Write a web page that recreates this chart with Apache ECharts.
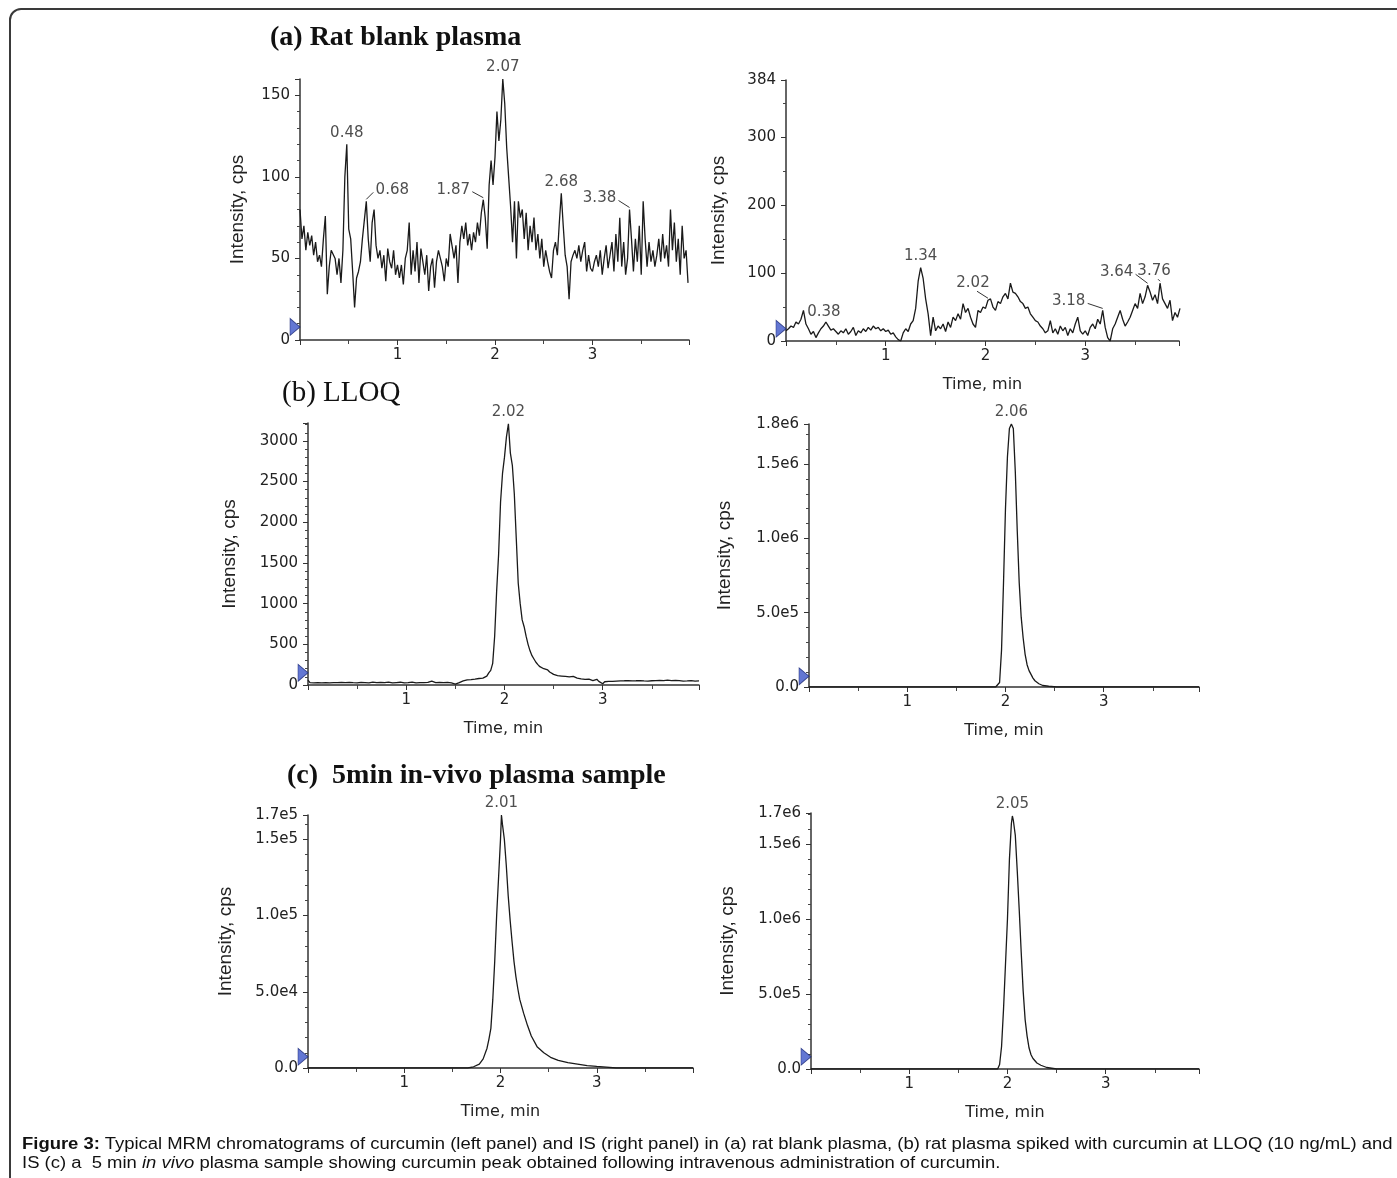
<!DOCTYPE html>
<html>
<head>
<meta charset="utf-8">
<title>Figure 3: MRM chromatograms of curcumin and IS</title>
<script src="https://cdn.jsdelivr.net/npm/echarts@6/dist/echarts.min.js"></script>
<style>
  html, body { margin: 0; padding: 0; background: #fff; }
  #wrap { position: relative; width: 1397px; height: 1178px; overflow: hidden; }
  #frame { position: absolute; left: 9px; top: 8px; width: 1420px; height: 1240px;
           border: 2px solid #3a3a3a; border-radius: 12px; box-sizing: border-box; }
  #chart { position: absolute; left: 0; top: 0; width: 1397px; height: 1178px; }
  #caption { position: absolute; left: 22px; top: 1134px; font-family: 'Liberation Sans', Arial, sans-serif;
             font-size: 16px; line-height: 19px; color: #111; transform-origin: 0 0; white-space: nowrap; }
</style>
</head>
<body>
<div id="wrap">
  <div id="frame"></div>
  <div id="chart"></div>
  <div id="caption">
    <div id="cap1"><b>Figure 3:</b> Typical MRM chromatograms of curcumin (left panel) and IS (right panel) in (a) rat blank plasma, (b) rat plasma spiked with curcumin at LLOQ (10 ng/mL) and</div>
    <div>IS (c) a&nbsp; 5 min <i>in vivo</i> plasma sample showing curcumin peak obtained following intravenous administration of curcumin.</div>
  </div>
</div>
<script>
// ---- data ----
// (a) rat blank plasma, curcumin channel: one reading every 0.02 min from 0
const blankDrugStep = 0.02;
const blankDrug = [
  80, 62, 70, 55, 66, 58, 64, 52, 60, 48,
  52, 45, 62, 76, 28, 45, 55, 54, 50, 40,
  50, 35, 55, 100, 120, 68, 62, 42, 20, 38,
  42, 48, 62, 62, 85, 62, 48, 72, 80, 58,
  50, 55, 44, 52, 36, 56, 48, 44, 55, 40,
  46, 38, 46, 34, 50, 55, 72, 40, 55, 42,
  60, 35, 56, 48, 40, 52, 30, 45, 50, 32,
  48, 55, 50, 45, 36, 50, 45, 65, 66, 50,
  58, 35, 60, 70, 62, 72, 58, 65, 55, 66,
  60, 72, 64, 78, 86, 75, 56, 95, 110, 95,
  112, 140, 122, 135, 160, 145, 118, 100, 82, 60,
  85, 50, 85, 75, 80, 62, 78, 55, 70, 60,
  75, 55, 65, 50, 62, 45, 55, 48, 42, 38,
  55, 60, 52, 72, 90, 70, 52, 45, 25, 48,
  52, 55, 50, 58, 48, 55, 60, 42, 52, 44,
  42, 48, 52, 45, 55, 40, 50, 58, 44, 52,
  60, 42, 65, 48, 75, 45, 60, 40, 50, 80,
  62, 42, 62, 48, 70, 40, 85, 62, 45, 60,
  48, 55, 45, 52, 62, 48, 65, 50, 58, 45,
  80, 55, 72, 48, 62, 40, 70, 50, 55, 35
];
// (a) rat blank plasma, IS channel: every 0.025 min
const blankIsStep = 0.025;
const blankIs = [
  15, 18, 22, 20, 28, 25, 32, 45, 25, 18,
  10, 14, 5, 12, 18, 22, 28, 22, 16, 18,
  14, 10, 15, 12, 18, 10, 14, 20, 8, 15,
  12, 18, 14, 20, 16, 22, 18, 20, 15, 18,
  14, 16, 10, 12, 6, 2, 0, 12, 18, 14,
  25, 30, 48, 88, 108, 92, 62, 40, 8, 35,
  15, 22, 18, 25, 14, 28, 20, 35, 30, 40,
  32, 55, 42, 48, 35, 25, 20, 45, 42, 50,
  48, 60, 62, 50, 45, 58, 55, 65, 70, 62,
  85, 72, 70, 65, 58, 55, 48, 50, 40, 35,
  30, 28, 22, 18, 12, 15, 30, 12, 18, 10,
  22, 15, 20, 8, 18, 12, 25, 35, 15, 10,
  15, 8, 20, 25, 18, 32, 25, 45, 20, 5,
  0, 18, 25, 35, 45, 32, 22, 28, 35, 45,
  55, 48, 70, 55, 65, 82, 72, 60, 68, 55,
  85, 62, 55, 48, 60, 30, 42, 35, 48
];
// (b) LLOQ, curcumin channel: every 0.02 min
const lloqDrugStep = 0.02;
const lloqDrug = [
  60, 30, 45, 25, 40, 30, 35, 25, 30, 28,
  30, 25, 32, 28, 35, 30, 25, 32, 28, 30,
  26, 32, 30, 28, 35, 25, 30, 33, 28, 30,
  32, 27, 30, 35, 28, 30, 26, 32, 30, 28,
  30, 35, 28, 25, 32, 30, 28, 34, 30, 26,
  30, 28, 32, 35, 30, 26, 30, 28, 34, 30,
  28, 32, 40, 48, 35, 30, 28, 32, 35, 30,
  28, 32, 30, 25, 20, 12, 10, 30, 45, 50,
  55, 62, 70, 65, 78, 72, 85, 80, 90, 85,
  95, 110, 150, 180, 266, 600, 1150, 1600, 2250, 2600,
  2800, 3050, 3210, 2850, 2700, 2350, 1800, 1250, 1000, 800,
  716, 600, 500, 420, 360, 320, 280, 250, 225, 210,
  200, 190, 185, 160, 140, 130, 135, 115, 120, 110,
  115, 105, 110, 100, 95, 105, 90, 85, 80, 75,
  78, 70, 65, 72, 60, 55, 50, 70, 45, 40,
  15, 40, 42, 45, 48, 45, 50, 48, 45, 50,
  48, 52, 45, 55, 48, 50, 45, 52, 48, 55,
  45, 50, 60, 48, 45, 52, 40, 55, 50, 58,
  45, 55, 50, 60, 48, 55, 70, 58, 50, 55,
  60, 48, 55, 50, 45, 55, 60, 48, 52, 50
];
// (b) LLOQ, IS channel
const lloqIsTime = [0, 1.90, 1.92, 1.94, 1.96, 1.98, 2.00, 2.02, 2.04, 2.06, 2.08, 2.10, 2.12, 2.14,
  2.16, 2.18, 2.20, 2.22, 2.24, 2.26, 2.28, 2.30, 2.34, 2.38, 2.44, 2.52, 3.97];
const lloqIs = [0, 0, 5000, 30000, 250000, 700000, 1200000, 1550000, 1740000, 1770000, 1740000, 1450000,
  1050000, 700000, 470000, 330000, 220000, 150000, 110000, 85000, 60000, 42000, 22000, 10000, 5000, 0, 0];
// (c) 5 min in vivo sample, curcumin channel
const vivoDrugTime = [0, 1.66, 1.72, 1.78, 1.82, 1.86, 1.88, 1.90, 1.92, 1.94, 1.96, 1.98, 2.00, 2.01,
  2.02, 2.04, 2.06, 2.08, 2.10, 2.12, 2.14, 2.16, 2.18, 2.20, 2.24, 2.28, 2.32, 2.38, 2.45, 2.52,
  2.60, 2.70, 2.80, 2.90, 3.00, 3.10, 3.20, 4.0];
const vivoDrug = [0, 0, 800, 2500, 6000, 13000, 19000, 26000, 45000, 70000, 100000, 125000, 150000, 166000,
  160000, 150000, 133000, 113000, 97000, 83000, 70000, 60000, 52000, 45000, 36000, 28000, 21000, 14000,
  10000, 7000, 5000, 3500, 2500, 1500, 1000, 600, 0, 0];
// (c) 5 min in vivo sample, IS channel
const vivoIsTime = [0, 1.90, 1.92, 1.94, 1.96, 1.98, 2.00, 2.02, 2.04, 2.05, 2.06, 2.08, 2.10, 2.12, 2.14,
  2.16, 2.18, 2.20, 2.22, 2.24, 2.26, 2.30, 2.34, 2.40, 2.50, 3.95];
const vivoIs = [0, 0, 30000, 150000, 400000, 700000, 1000000, 1400000, 1640000, 1690000, 1660000, 1560000,
  1320000, 1060000, 780000, 520000, 330000, 220000, 140000, 95000, 70000, 40000, 25000, 10000, 0, 0];

// labelled retention times [time, intensity, label]
const peaksBlankDrug = [[0.48, 120, '0.48'], [0.68, 85, '0.68'], [1.88, 86, '1.87'], [2.08, 160, '2.07'], [2.68, 90, '2.68'], [3.38, 80, '3.38']];
const peaksBlankIs = [[0.38, 25, '0.38'], [1.35, 108, '1.34'], [2.025, 60, '2.02'], [3.175, 45, '3.18'], [3.625, 82, '3.64'], [3.75, 85, '3.76']];
const peaksLloqDrug = [[2.04, 3210, '2.02']];
const peaksLloqIs = [[2.06, 1770000, '2.06']];
const peaksVivoDrug = [[2.01, 166000, '2.01']];
const peaksVivoIs = [[2.05, 1690000, '2.05']];

// integration threshold marker on each y axis
const markerLevels = [8, 18, 150, 72000, 7400, 82000];

// tick labels
const timeTicks = [1, 2, 3];
const yTicksBlankDrug = [0, 50, 100, 150];
const yLabelsBlankDrug = ['0', '50', '100', '150'];
const yTicksBlankIs = [0, 100, 200, 300, 384];
const yLabelsBlankIs = ['0', '100', '200', '300', '384'];
const yTicksLloqDrug = [0, 500, 1000, 1500, 2000, 2500, 3000];
const yLabelsLloqDrug = ['0', '500', '1000', '1500', '2000', '2500', '3000'];
const yTicksLloqIs = [0, 500000, 1000000, 1500000, 1770000];
const yLabelsLloqIs = ['0.0', '5.0e5', '1.0e6', '1.5e6', '1.8e6'];
const yTicksVivoDrug = [0, 50000, 100000, 150000, 166000];
const yLabelsVivoDrug = ['0.0', '5.0e4', '1.0e5', '1.5e5', '1.7e5'];
const yTicksVivoIs = [0, 500000, 1000000, 1500000, 1710000];
const yLabelsVivoIs = ['0.0', '5.0e5', '1.0e6', '1.5e6', '1.7e6'];

const panelTitles = ['(a) Rat blank plasma', '(b) LLOQ', '(c)  5min in-vivo plasma sample'];

// ---- layout ----
const titleStyle = [[270, 24, 'bold 28px'], [282, 379, '29px'], [287, 762, 'bold 28px']];
const panels = [
  { grid: [300, 79, 389, 261], xMax: 3.99, yMax: 160, yStep: 50, yMinor: 5, nameGap: 53, time: false },
  { grid: [786, 80, 393, 261], xMax: 3.94, yMax: 384, yStep: 100, yMinor: 2, nameGap: 58, time: true },
  { grid: [308, 423, 391, 262], xMax: 3.98, yMax: 3220, yStep: 500, yMinor: 5, nameGap: 69, time: true },
  { grid: [809, 424, 390, 263], xMax: 3.97, yMax: 1770000, yStep: 500000, yMinor: 5, nameGap: 75, time: true },
  { grid: [308, 815, 385, 253], xMax: 4.0, yMax: 166000, yStep: 50000, yMinor: 5, nameGap: 73, time: true },
  { grid: [811, 813, 388, 256], xMax: 3.95, yMax: 1710000, yStep: 500000, yMinor: 5, nameGap: 74, time: true }
];
// label offsets (px, label centre from the peak) for labels that carry a leader line
const leaderOffsets = [
  { '0.68': [26, -11], '1.87': [-30, -10], '3.38': [-30, -11] },
  { '2.02': [-15, -17], '3.18': [-34, -9], '3.64': [-31, -13], '3.76': [-6, -12] },
  {}, {}, {}, {}
];

function stepPairs(vals, step) {
  return vals.map(function (v, i) { return [Math.round(i * step * 1000) / 1000, v]; });
}
function timePairs(ts, vals) {
  return ts.map(function (t, i) { return [t, vals[i]]; });
}
function tickFormatter(vals, labs) {
  return function (v) {
    for (let k = 0; k < vals.length; k++) {
      if (Math.abs(v - vals[k]) <= 1e-6 * Math.max(1, Math.abs(vals[k]))) return labs[k];
    }
    return '';
  };
}

const traces = [
  stepPairs(blankDrug, blankDrugStep),
  stepPairs(blankIs, blankIsStep),
  stepPairs(lloqDrug, lloqDrugStep),
  timePairs(lloqIsTime, lloqIs),
  timePairs(vivoDrugTime, vivoDrug),
  timePairs(vivoIsTime, vivoIs)
];
const peakSets = [peaksBlankDrug, peaksBlankIs, peaksLloqDrug, peaksLloqIs, peaksVivoDrug, peaksVivoIs];
const yFormatters = [
  tickFormatter(yTicksBlankDrug, yLabelsBlankDrug),
  tickFormatter(yTicksBlankIs, yLabelsBlankIs),
  tickFormatter(yTicksLloqDrug, yLabelsLloqDrug),
  tickFormatter(yTicksLloqIs, yLabelsLloqIs),
  tickFormatter(yTicksVivoDrug, yLabelsVivoDrug),
  tickFormatter(yTicksVivoIs, yLabelsVivoIs)
];

const ink = '#222';
const tickFont = { color: ink, fontSize: 15, fontFamily: 'DejaVu Sans' };

const grids = [], xAxes = [], yAxes = [], series = [];
panels.forEach(function (p, k) {
  grids.push({ left: p.grid[0], top: p.grid[1], width: p.grid[2], height: p.grid[3],
    containLabel: false, outerBoundsMode: 'none' });
  xAxes.push({
    type: 'value', gridIndex: k, min: 0, max: p.xMax, interval: 1,
    axisLine: { show: true, onZero: false, lineStyle: { color: '#333', width: 1.5 } },
    axisTick: { show: true, length: 5, lineStyle: { color: '#333' } },
    minorTick: { show: true, splitNumber: 2, length: 4, lineStyle: { color: '#444' } },
    splitLine: { show: false },
    axisLabel: Object.assign({ margin: 8, showMaxLabel: false,
      formatter: function (v) { return timeTicks.indexOf(v) >= 0 ? String(v) : ''; } }, tickFont),
    name: p.time ? 'Time, min' : '', nameLocation: 'middle', nameGap: 36,
    nameTextStyle: { color: ink, fontSize: 16, fontFamily: 'DejaVu Sans' }
  });
  yAxes.push({
    type: 'value', gridIndex: k, min: 0, max: p.yMax, interval: p.yStep,
    axisLine: { show: true, onZero: false, lineStyle: { color: '#333', width: 1.5 } },
    axisTick: { show: true, length: 5, lineStyle: { color: '#333' } },
    minorTick: { show: true, splitNumber: p.yMinor, length: 3, lineStyle: { color: '#444' } },
    splitLine: { show: false },
    axisLabel: Object.assign({ margin: 10, showMaxLabel: true, formatter: yFormatters[k] }, tickFont),
    name: 'Intensity, cps', nameLocation: 'middle', nameGap: p.nameGap,
    nameTextStyle: { color: ink, fontSize: 19, fontFamily: 'Liberation Sans' }
  });
  series.push({
    type: 'line', xAxisIndex: k, yAxisIndex: k, data: traces[k],
    showSymbol: false, symbol: 'none', silent: true,
    lineStyle: { color: '#1a1a1a', width: 1.3 }
  });
  const offs = leaderOffsets[k];
  const plain = peakSets[k].filter(function (d) { return !offs[d[2]]; });
  const led = peakSets[k].filter(function (d) { return offs[d[2]]; });
  series.push({
    type: 'scatter', xAxisIndex: k, yAxisIndex: k, symbolSize: 0, silent: true,
    data: plain.map(function (d) { return { value: [d[0], d[1]], name: d[2] }; }),
    label: Object.assign({ show: true, position: 'top', distance: 4, formatter: '{b}' }, tickFont)
  });
  if (led.length) {
    series.push({
      type: 'scatter', xAxisIndex: k, yAxisIndex: k, symbolSize: 0, silent: true,
      data: led.map(function (d) { return { value: [d[0], d[1]], name: d[2] }; }),
      label: Object.assign({ show: true, position: 'inside', formatter: '{b}' }, tickFont),
      labelLayout: function (params) {
        const o = offs[led[params.dataIndex][2]];
        return { dx: o[0], dy: o[1] };
      }
    });
  }
  series.push({
    type: 'scatter', xAxisIndex: k, yAxisIndex: k, silent: true, z: 5,
    data: [[0, markerLevels[k]]],
    symbol: 'triangle', symbolRotate: -90, symbolSize: [17, 10], symbolOffset: [-5, 0],
    itemStyle: { color: '#3c55c8', borderColor: '#1d2b77', borderWidth: 0.8 }
  });
});

const chart = echarts.init(document.getElementById('chart'));
chart.setOption({
  animation: false,
  backgroundColor: 'transparent',
  grid: grids,
  xAxis: xAxes,
  yAxis: yAxes,
  series: series
});

// panel titles, plus short leader strokes from each offset label back to its peak
const graphics = panelTitles.map(function (t, k) {
  return {
    type: 'text', left: titleStyle[k][0], top: titleStyle[k][1], silent: true,
    style: { text: t, fill: '#111', font: titleStyle[k][2] + ' "Liberation Serif", serif' }
  };
});
panels.forEach(function (p, k) {
  const offs = leaderOffsets[k];
  peakSets[k].forEach(function (d) {
    const o = offs[d[2]];
    if (!o) return;
    const pt = chart.convertToPixel({ gridIndex: k }, [d[0], d[1]]);
    const cx = pt[0] + o[0], cy = pt[1] + o[1];
    const half = 19;
    // start at the label edge facing the peak
    const start = Math.abs(o[0]) > half ? [cx - Math.sign(o[0]) * half, cy + 2] : [cx + 4, cy + 8];
    graphics.push({
      type: 'line', silent: true,
      shape: { x1: start[0], y1: start[1], x2: pt[0], y2: pt[1] - 2 },
      style: { stroke: '#333', lineWidth: 1 }
    });
  });
});
chart.setOption({ graphic: graphics });

// stretch the caption so its first line spans the frame, as in the figure
const cap1 = document.getElementById('cap1');
const scale = 1371 / cap1.scrollWidth;
document.getElementById('caption').style.transform = 'scaleX(' + scale + ')';
</script>
</body>
</html>
